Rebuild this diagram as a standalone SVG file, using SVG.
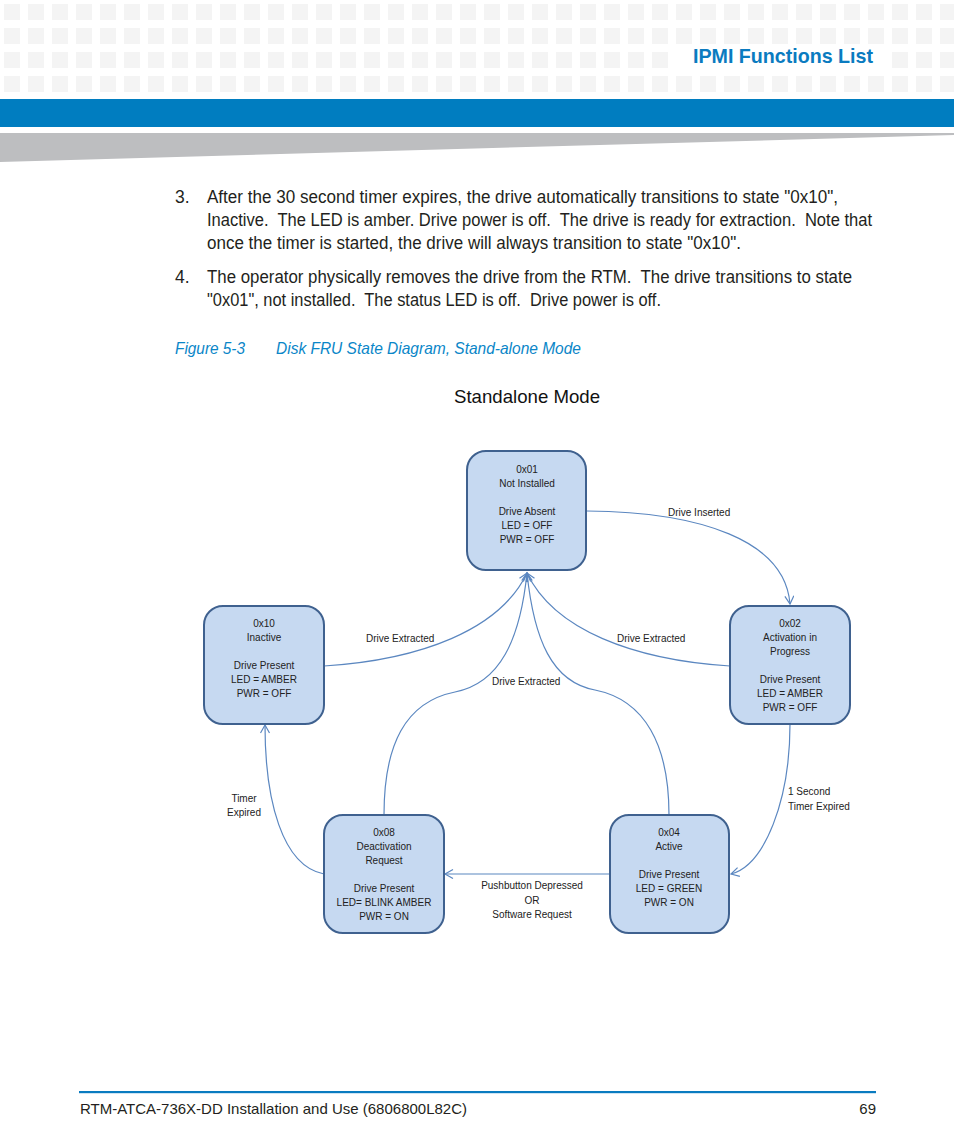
<svg xmlns="http://www.w3.org/2000/svg" width="954" height="1145" viewBox="0 0 954 1145">
<style>
.body{font-family:"Liberation Sans",Arial,sans-serif;font-size:17.5px;fill:#231f20;white-space:pre}
.cap{font-family:"Liberation Sans",Arial,sans-serif;font-size:17px;fill:#0a86c8;font-style:italic}
.nt{font-family:"Liberation Sans",Arial,sans-serif;font-size:10px;fill:#222;text-anchor:middle}
.lt{font-family:"Liberation Sans",Arial,sans-serif;font-size:10px;fill:#222}
.box{fill:#c6d9f1;stroke:#3f618f;stroke-width:2}
.edge{fill:none;stroke:#5b87c0;stroke-width:1.2}
</style>
<defs>
<pattern id="sq" patternUnits="userSpaceOnUse" x="0" y="0" width="24" height="24">
<rect x="4" y="4" width="16" height="16" fill="#f4f4f4"/>
</pattern>
<marker id="arr" markerUnits="userSpaceOnUse" markerWidth="12" markerHeight="12" refX="9" refY="5" orient="auto">
<path d="M1,0.5 L9,5 L1,9.5" fill="none" stroke="#5b87c0" stroke-width="1.2"/>
</marker>
</defs>
<rect width="954" height="1145" fill="#fff"/>
<g id="header">
<rect x="0" y="0" width="954" height="96" fill="url(#sq)"/>
<rect x="672" y="48" width="216" height="24" fill="#fff"/>
<text x="693" y="63" font-family="'Liberation Sans',Arial,sans-serif" font-size="21" font-weight="bold" fill="#0a7bc0" textLength="180" lengthAdjust="spacingAndGlyphs">IPMI Functions List</text>
<rect x="0" y="99" width="954" height="28" fill="#007dc0"/>
<polygon points="0,133 954,133 954,135 0,162" fill="#bdbec0"/>
</g>
<g id="bodytext" xml:space="preserve">
<text class="body" x="175" y="203">3.</text>
<text class="body" x="207" y="203" textLength="631" lengthAdjust="spacingAndGlyphs">After the 30 second timer expires, the drive automatically transitions to state "0x10",</text>
<text class="body" x="207" y="226" textLength="665" lengthAdjust="spacingAndGlyphs">Inactive.  The LED is amber. Drive power is off.  The drive is ready for extraction.  Note that</text>
<text class="body" x="207" y="249" textLength="534" lengthAdjust="spacingAndGlyphs">once the timer is started, the drive will always transition to state "0x10".</text>
<text class="body" x="175" y="283">4.</text>
<text class="body" x="207" y="283" textLength="645" lengthAdjust="spacingAndGlyphs">The operator physically removes the drive from the RTM.  The drive transitions to state</text>
<text class="body" x="207" y="306" textLength="454" lengthAdjust="spacingAndGlyphs">"0x01", not installed.  The status LED is off.  Drive power is off.</text>
</g>
<g id="caption">
<text class="cap" x="175" y="354" textLength="70" lengthAdjust="spacingAndGlyphs">Figure 5-3</text>
<text class="cap" x="276" y="354" textLength="305" lengthAdjust="spacingAndGlyphs">Disk FRU State Diagram, Stand-alone Mode</text>
</g>
<text x="454" y="403" font-family="'Liberation Sans',Arial,sans-serif" font-size="18.5" fill="#111" textLength="146" lengthAdjust="spacingAndGlyphs">Standalone Mode</text>
<g id="connectors">
<path class="edge" d="M587,511 C700,512 785,540 790,604" marker-end="url(#arr)"/>
<path class="edge" d="M790,724 C790,800 765,865 731,874" marker-end="url(#arr)"/>
<path class="edge" d="M610,874 L445,874" marker-end="url(#arr)"/>
<path class="edge" d="M324,874 C282,866 265,800 265,725" marker-end="url(#arr)"/>
<path class="edge" d="M324,666 C420,660 500,630 527,573" marker-end="url(#arr)"/>
<path class="edge" d="M730,666 C634,660 554,630 527,573" marker-end="url(#arr)"/>
<path class="edge" d="M384,815 C384,745 405,702 455,692 C500,683 520,640 527,573" marker-end="url(#arr)"/>
<path class="edge" d="M669,815 C669,745 645,700 595,690 C552,682 534,640 527,573" marker-end="url(#arr)"/>
<text class="lt" x="668" y="516">Drive Inserted</text>
<text class="lt" x="366" y="642">Drive Extracted</text>
<text class="lt" x="492" y="685">Drive Extracted</text>
<text class="lt" x="617" y="642">Drive Extracted</text>
<text class="lt" x="788" y="795">1 Second</text>
<text class="lt" x="788" y="810">Timer Expired</text>
<text class="nt" x="244" y="802">Timer</text>
<text class="nt" x="244" y="816">Expired</text>
<text class="nt" x="532" y="889">Pushbutton Depressed</text>
<text class="nt" x="532" y="904">OR</text>
<text class="nt" x="532" y="918">Software Request</text>
</g>
<g id="n01">
<rect class="box" x="467" y="451" width="119" height="119" rx="19"/>
<text class="nt" x="527" y="473">0x01</text>
<text class="nt" x="527" y="487">Not Installed</text>
<text class="nt" x="527" y="515">Drive Absent</text>
<text class="nt" x="527" y="529">LED = OFF</text>
<text class="nt" x="527" y="543">PWR = OFF</text>
</g>
<g id="n10">
<rect class="box" x="204" y="606" width="120" height="118" rx="19"/>
<text class="nt" x="264" y="627">0x10</text>
<text class="nt" x="264" y="641">Inactive</text>
<text class="nt" x="264" y="669">Drive Present</text>
<text class="nt" x="264" y="683">LED = AMBER</text>
<text class="nt" x="264" y="697">PWR = OFF</text>
</g>
<g id="n02">
<rect class="box" x="730" y="606" width="120" height="118" rx="19"/>
<text class="nt" x="790" y="627">0x02</text>
<text class="nt" x="790" y="641">Activation in</text>
<text class="nt" x="790" y="655">Progress</text>
<text class="nt" x="790" y="683">Drive Present</text>
<text class="nt" x="790" y="697">LED = AMBER</text>
<text class="nt" x="790" y="711">PWR = OFF</text>
</g>
<g id="n08">
<rect class="box" x="324" y="815" width="120" height="118" rx="19"/>
<text class="nt" x="384" y="836">0x08</text>
<text class="nt" x="384" y="850">Deactivation</text>
<text class="nt" x="384" y="864">Request</text>
<text class="nt" x="384" y="892">Drive Present</text>
<text class="nt" x="384" y="906">LED= BLINK AMBER</text>
<text class="nt" x="384" y="920">PWR = ON</text>
</g>
<g id="n04">
<rect class="box" x="610" y="815" width="119" height="118" rx="19"/>
<text class="nt" x="669" y="836">0x04</text>
<text class="nt" x="669" y="850">Active</text>
<text class="nt" x="669" y="878">Drive Present</text>
<text class="nt" x="669" y="892">LED = GREEN</text>
<text class="nt" x="669" y="906">PWR = ON</text>
</g>
<g id="footer">
<rect x="79" y="1091" width="797" height="2.2" fill="#0a7bc0"/>
<text x="80" y="1114" font-family="'Liberation Sans',Arial,sans-serif" font-size="15" fill="#231f20" textLength="387" lengthAdjust="spacingAndGlyphs">RTM-ATCA-736X-DD Installation and Use (6806800L82C)</text>
<text x="876" y="1114" font-family="'Liberation Sans',Arial,sans-serif" font-size="15" fill="#231f20" text-anchor="end">69</text>
</g>
</svg>
